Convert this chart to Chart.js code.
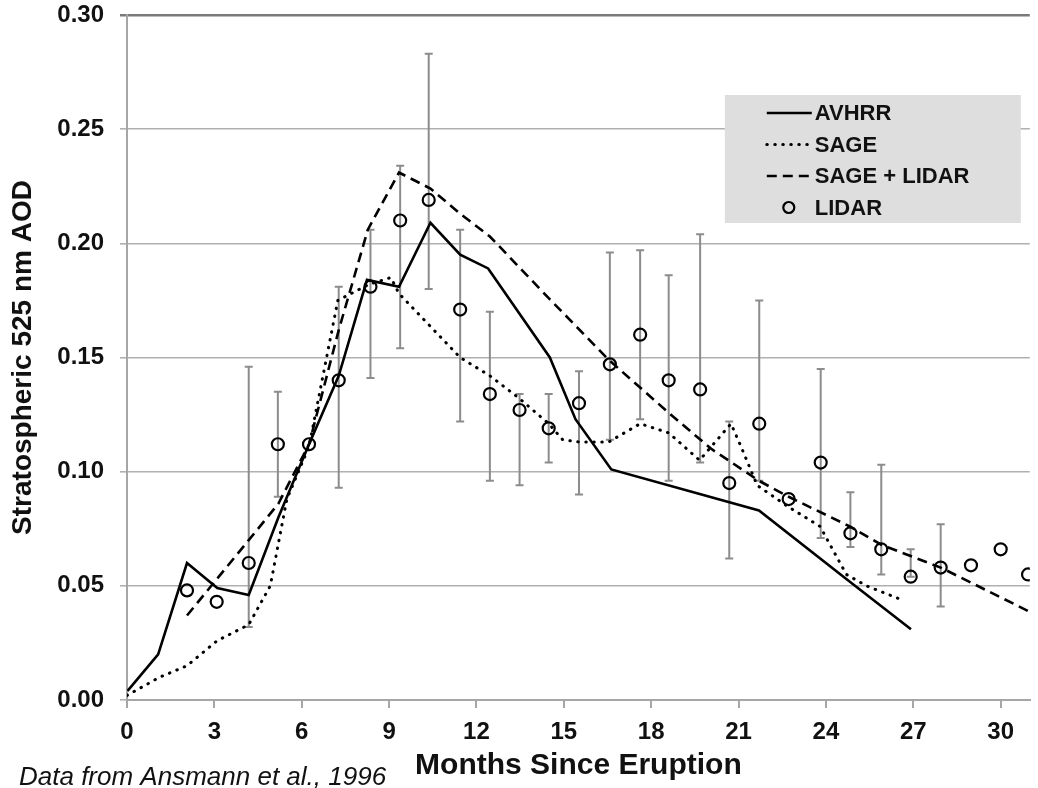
<!DOCTYPE html>
<html>
<head>
<meta charset="utf-8">
<script src="https://cdn.jsdelivr.net/npm/chart.js@4.4.1/dist/chart.umd.min.js"></script>
<style>
  html, body { margin: 0; padding: 0; background: #fff; }
  #wrap { width: 1038px; height: 788px; position: relative; }
</style>
</head>
<body>
<div id="wrap"><canvas id="aodChart"></canvas></div>
<script>
// months since eruption / stratospheric AOD
const avhrrMonths = [0.02, 1.07, 2.06, 3.1, 4.18, 5.2, 6.25, 7.27, 8.24, 9.34, 10.42, 11.44, 12.4, 14.52, 15.4, 16.63, 21.7, 24.7, 26.92];
const avhrrAod    = [0.004, 0.020, 0.060, 0.049, 0.046, 0.080, 0.112, 0.142, 0.184, 0.181, 0.209, 0.195, 0.189, 0.150, 0.123, 0.101, 0.083, 0.053, 0.031];

const sageMonths = [0, 1.12, 2.06, 3.1, 4.18, 4.92, 5.49, 6.25, 7.24, 8.3, 9.06, 9.34, 11.44, 12.46, 13.48, 14.48, 14.96, 15.52, 16.54, 17.62, 18.6, 19.66, 20.74, 21.05, 21.64, 22.66, 23.8, 24.7, 25.39, 26.58];
const sageAod    = [0.002, 0.010, 0.015, 0.026, 0.033, 0.050, 0.088, 0.111, 0.175, 0.182, 0.185, 0.178, 0.150, 0.142, 0.132, 0.121, 0.114, 0.113, 0.113, 0.121, 0.117, 0.105, 0.121, 0.112, 0.094, 0.085, 0.076, 0.055, 0.050, 0.044];

const sageLidarMonths = [2.06, 4.18, 5.2, 6.25, 7.27, 8.27, 9.34, 10.42, 11.44, 12.46, 14.48, 16.54, 18.58, 20.06, 21.7, 22.72, 24.82, 25.9, 27.94, 30.94];
const sageLidarAod    = [0.037, 0.070, 0.086, 0.112, 0.162, 0.206, 0.231, 0.224, 0.213, 0.203, 0.176, 0.149, 0.126, 0.110, 0.096, 0.089, 0.076, 0.068, 0.058, 0.039];

const lidarMonths = [2.06, 3.08, 4.18, 5.18, 6.25, 7.27, 8.36, 9.38, 10.36, 11.44, 12.46, 13.48, 14.48, 15.52, 16.58, 17.62, 18.6, 19.68, 20.68, 21.71, 22.72, 23.82, 24.84, 25.9, 26.91, 27.94, 28.98, 30.0, 30.94];
const lidarAod    = [0.048, 0.043, 0.060, 0.112, 0.112, 0.140, 0.181, 0.210, 0.219, 0.171, 0.134, 0.127, 0.119, 0.130, 0.147, 0.160, 0.140, 0.136, 0.095, 0.121, 0.088, 0.104, 0.073, 0.066, 0.054, 0.058, 0.059, 0.066, 0.055];
const lidarLow    = [null, null, 0.032, 0.089, null, 0.093, 0.141, 0.154, 0.180, 0.122, 0.096, 0.094, 0.104, 0.090, 0.114, 0.123, 0.096, 0.104, 0.062, 0.096, null, 0.071, 0.067, 0.055, 0.054, 0.041, null, null, null];
const lidarHigh   = [null, null, 0.146, 0.135, null, 0.181, 0.206, 0.234, 0.283, 0.206, 0.170, 0.134, 0.134, 0.144, 0.196, 0.197, 0.186, 0.204, 0.122, 0.175, null, 0.145, 0.091, 0.103, 0.066, 0.077, null, null, null];

const xTickValues = [0, 3, 6, 9, 12, 15, 18, 21, 24, 27, 30];
const yTickValues = [0, 0.05, 0.10, 0.15, 0.20, 0.25, 0.30];

const FONT = "'Liberation Sans', Arial, sans-serif";

function pts(xs, ys) {
  return xs.map((x, i) => ({ x: x, y: ys[i] }));
}

// vertical error bars for the LIDAR points
const errorBars = {
  id: 'errorBars',
  beforeDatasetsDraw(chart) {
    const { ctx, scales: { x, y } } = chart;
    ctx.save();
    ctx.strokeStyle = '#8c8c8c';
    ctx.lineWidth = 2;
    lidarMonths.forEach((m, i) => {
      if (lidarLow[i] == null) return;
      const px = x.getPixelForValue(m);
      const top = y.getPixelForValue(lidarHigh[i]);
      const bot = y.getPixelForValue(lidarLow[i]);
      ctx.beginPath();
      ctx.moveTo(px, top); ctx.lineTo(px, bot);
      ctx.moveTo(px - 4, top); ctx.lineTo(px + 4, top);
      ctx.moveTo(px - 4, bot); ctx.lineTo(px + 4, bot);
      ctx.stroke();
    });
    ctx.restore();
  }
};

// grey legend box inside the plot, top right
const boxLegend = {
  id: 'boxLegend',
  afterDraw(chart) {
    const { ctx, chartArea } = chart;
    const left = chartArea.right - 305;
    const top = chartArea.top + 80;
    ctx.save();
    ctx.fillStyle = '#dedede';
    ctx.fillRect(left, top, 296, 128);
    ctx.font = 'bold 22px ' + FONT;
    ctx.textBaseline = 'middle';
    chart.data.datasets.forEach((ds, i) => {
      const cy = top + 18 + i * 31.5;
      const x0 = left + 42;
      const x1 = left + 87;
      ctx.strokeStyle = '#000';
      if (ds.showLine) {
        ctx.lineWidth = ds.borderWidth;
        ctx.lineCap = ds.borderCapStyle || 'butt';
        ctx.setLineDash(ds.borderDash || []);
        ctx.beginPath();
        ctx.moveTo(x0, cy);
        ctx.lineTo(x1, cy);
        ctx.stroke();
        ctx.setLineDash([]);
      } else {
        ctx.lineWidth = 2.2;
        ctx.beginPath();
        ctx.arc(x0 + 22, cy, 5.5, 0, Math.PI * 2);
        ctx.stroke();
      }
      ctx.fillStyle = '#111';
      ctx.fillText(ds.label, x1 + 3, cy + 1);
    });
    ctx.restore();
  }
};

// footnote at bottom left
const sourceNote = {
  id: 'sourceNote',
  afterDraw(chart) {
    const { ctx } = chart;
    ctx.save();
    ctx.font = 'italic 26px ' + FONT;
    ctx.fillStyle = '#111';
    ctx.textBaseline = 'alphabetic';
    ctx.fillText('Data from Ansmann et al., 1996', 19, 785);
    ctx.restore();
  }
};

const ctx = document.getElementById('aodChart').getContext('2d');

const chart = new Chart(ctx, {
  type: 'scatter',
  data: {
    datasets: [{
      label: 'AVHRR',
      data: pts(avhrrMonths, avhrrAod),
      showLine: true,
      borderColor: '#000',
      borderWidth: 2.6,
      pointRadius: 0,
    }, {
      label: 'SAGE',
      data: pts(sageMonths, sageAod),
      showLine: true,
      borderColor: '#000',
      borderWidth: 3,
      borderDash: [0.5, 7.5],
      borderCapStyle: 'round',
      pointRadius: 0,
    }, {
      label: 'SAGE + LIDAR',
      data: pts(sageLidarMonths, sageLidarAod),
      showLine: true,
      borderColor: '#000',
      borderWidth: 2.6,
      borderDash: [10, 6],
      pointRadius: 0,
    }, {
      label: 'LIDAR',
      data: pts(lidarMonths, lidarAod),
      showLine: false,
      pointStyle: 'circle',
      pointRadius: 6,
      pointBorderWidth: 2.2,
      pointBorderColor: '#000',
      pointBackgroundColor: 'rgba(0,0,0,0)',
    }],
  },
  options: {
    responsive: true,
    maintainAspectRatio: false,
    animation: false,
    layout: { padding: { top: 0, right: 0, bottom: 0, left: 0 } },
    plugins: {
      legend: { display: false },
      tooltip: { enabled: false },
    },
    scales: {
      x: {
        type: 'linear',
        min: 0,
        max: 31,
        afterFit: (scale) => { scale.height = 88; },
        afterBuildTicks: (scale) => { scale.ticks = xTickValues.map(v => ({ value: v })); },
        ticks: {
          padding: 10,
          color: '#111',
          font: { family: FONT, size: 24, weight: 'bold' },
        },
        grid: {
          drawOnChartArea: false,
          drawTicks: true,
          tickLength: 8,
          color: '#a6a6a6',
          lineWidth: 2,
        },
        border: { display: true, color: '#a6a6a6', width: 2 },
        title: {
          display: true,
          text: 'Months Since Eruption',
          color: '#111',
          font: { family: FONT, size: 30, weight: 'bold' },
          padding: { top: 0, bottom: 4 },
        },
      },
      y: {
        min: 0,
        max: 0.30,
        afterFit: (scale) => {
          scale.width = 127;
          scale.paddingTop = 15;
          scale.paddingBottom = 0;
        },
        afterBuildTicks: (scale) => { scale.ticks = yTickValues.map(v => ({ value: v })); },
        ticks: {
          padding: 16,
          color: '#111',
          font: { family: FONT, size: 24, weight: 'bold' },
          callback: (v) => Number(v).toFixed(2),
        },
        grid: {
          color: (c) => (c.tick && c.tick.value === 0.3 ? '#7a7a7a' : '#b0b0b0'),
          lineWidth: (c) => (c.tick && c.tick.value === 0.3 ? 2.5 : 1.6),
          tickLength: 7,
        },
        border: { display: true, color: '#a6a6a6', width: 2 },
        title: {
          display: true,
          text: 'Stratospheric 525 nm AOD',
          color: '#111',
          font: { family: FONT, size: 28, weight: 'bold' },
          padding: { top: 6, bottom: 0 },
        },
      },
    },
  },
  plugins: [errorBars, boxLegend, sourceNote],
});
</script>
</body>
</html>
